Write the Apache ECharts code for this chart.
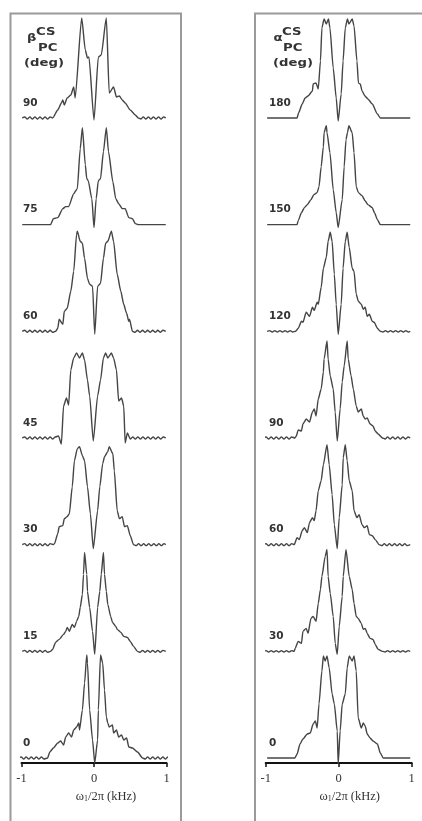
<!DOCTYPE html>
<html>
<head>
<meta charset="utf-8">
<script src="https://cdn.jsdelivr.net/npm/echarts@6/dist/echarts.min.js"></script>
<style>html,body{margin:0;padding:0;background:#fff}#c{width:422px;height:821px}</style>
</head>
<body>
<div id="c"></div>
<script>
// ---- data: [frequency (kHz), intensity (arb.)] ----
const b90 = [[-0.99,0],[-0.955,1],[-0.92,-1],[-0.885,1],[-0.85,-1],[-0.815,1],[-0.78,-1],[-0.745,1],[-0.71,-1],[-0.675,1],[-0.64,-1],[-0.605,1],[-0.57,0],
 [-0.50,8],[-0.45,15],[-0.43,18],[-0.41,13],[-0.37,20],[-0.32,23],[-0.28,31],[-0.26,20],[-0.17,100],[-0.12,68],[-0.09,60],[-0.07,61],[0.0,-2],[0.06,61],[0.10,63],[0.17,100],[0.21,25],[0.27,31],[0.31,21],[0.35,22],[0.39,18],[0.43,15],[0.50,8],[0.57,3],
 [0.61,0],[0.645,-1],[0.68,1],[0.715,-1],[0.75,1],[0.785,-1],[0.82,1],[0.855,-1],[0.89,1],[0.925,-1],[0.96,1],[0.99,0]];
const b75 = [[-0.99,0],[-0.60,0],[-0.56,6],[-0.50,7],[-0.43,16],[-0.39,18],[-0.35,18],[-0.28,31],[-0.23,36],[-0.19,76],[-0.16,97],[-0.12,60],[-0.10,46],[-0.08,44],[-0.03,26],[0.0,-3],[0.03,26],[0.06,44],[0.09,46],[0.13,73],[0.17,97],[0.20,73],[0.26,43],[0.30,26],[0.34,21],[0.39,16],[0.43,16],[0.48,7],[0.53,6],[0.57,1],[0.61,0],[0.99,0]];
const b60 = [[-0.99,0],[-0.955,1],[-0.92,-1],[-0.885,1],[-0.85,-1],[-0.815,1],[-0.78,-1],[-0.745,1],[-0.71,-1],[-0.675,1],[-0.64,-1],[-0.605,1],[-0.57,-1],[-0.53,0],
 [-0.50,3],[-0.48,12],[-0.43,7],[-0.41,20],[-0.37,23],[-0.32,40],[-0.28,60],[-0.24,97],[-0.23,100],[-0.19,90],[-0.16,88],[-0.13,73],[-0.09,53],[-0.06,47],[-0.02,45],[0.01,-3],[0.05,45],[0.09,48],[0.13,73],[0.16,88],[0.19,90],[0.24,100],[0.27,90],[0.32,57],[0.37,40],[0.41,27],[0.45,18],[0.48,10],[0.49,12],[0.53,0],
 [0.565,-1],[0.60,1],[0.635,-1],[0.67,1],[0.705,-1],[0.74,1],[0.775,-1],[0.81,1],[0.845,-1],[0.88,1],[0.915,-1],[0.95,1],[0.99,0]];
const b45 = [[-0.99,0],[-0.955,1],[-0.92,-1],[-0.885,1],[-0.85,-1],[-0.815,1],[-0.78,-1],[-0.745,1],[-0.71,-1],[-0.675,1],[-0.64,-1],[-0.605,1],[-0.57,-1],[-0.535,1],[-0.49,2],
 [-0.45,-6],[-0.42,32],[-0.38,40],[-0.35,33],[-0.32,68],[-0.28,80],[-0.24,85],[-0.20,80],[-0.16,85],[-0.13,78],[-0.09,58],[-0.06,42],[-0.01,-3],[0.05,42],[0.09,58],[0.13,80],[0.16,85],[0.19,80],[0.24,85],[0.27,80],[0.31,68],[0.34,37],[0.38,40],[0.41,32],[0.43,-5],[0.46,5],
 [0.50,-1],[0.535,1],[0.57,-1],[0.605,1],[0.64,-1],[0.675,1],[0.71,-1],[0.745,1],[0.78,-1],[0.815,1],[0.85,-1],[0.885,1],[0.92,-1],[0.955,1],[0.99,0]];
const b30 = [[-0.99,0],[-0.955,1],[-0.92,-1],[-0.885,1],[-0.85,-1],[-0.815,1],[-0.78,-1],[-0.745,1],[-0.71,-1],[-0.675,1],[-0.64,-1],[-0.605,1],[-0.56,0],
 [-0.545,1],[-0.50,11],[-0.48,18],[-0.43,19],[-0.41,26],[-0.37,28],[-0.34,31],[-0.30,58],[-0.27,84],[-0.23,96],[-0.20,98],[-0.16,89],[-0.13,84],[-0.09,58],[-0.05,31],[-0.01,-4],[0.05,34],[0.08,58],[0.12,81],[0.145,88],[0.19,93],[0.21,98],[0.26,91],[0.28,74],[0.32,34],[0.35,26],[0.39,28],[0.42,18],[0.46,19],[0.50,9],[0.545,0],
 [0.58,-1],[0.615,1],[0.65,-1],[0.685,1],[0.72,-1],[0.755,1],[0.79,-1],[0.825,1],[0.86,-1],[0.895,1],[0.93,-1],[0.965,1],[0.99,0]];
const b15 = [[-0.99,0],[-0.955,1],[-0.92,-1],[-0.885,1],[-0.85,-1],[-0.815,1],[-0.78,-1],[-0.745,1],[-0.71,-1],[-0.675,1],[-0.64,-1],[-0.60,0],
 [-0.57,2],[-0.53,9],[-0.48,12],[-0.42,17],[-0.39,20],[-0.37,24],[-0.34,20],[-0.30,27],[-0.27,24],[-0.24,30],[-0.21,35],[-0.19,44],[-0.16,57],[-0.145,77],[-0.13,99],[-0.10,77],[-0.09,60],[-0.06,44],[-0.02,20],[0.01,-3],[0.05,44],[0.08,60],[0.10,77],[0.13,99],[0.145,77],[0.17,60],[0.19,47],[0.23,35],[0.255,29],[0.30,25],[0.32,22],[0.37,19],[0.41,15],[0.46,14],[0.50,10],[0.545,5],[0.60,0],
 [0.635,-1],[0.67,1],[0.705,-1],[0.74,1],[0.775,-1],[0.81,1],[0.845,-1],[0.88,1],[0.915,-1],[0.95,1],[0.99,0]];
const b0 = [[-1.04,0],[-1.005,1],[-0.97,-1],[-0.935,1],[-0.90,-1],[-0.865,1],[-0.83,-1],[-0.795,1],[-0.76,-1],[-0.725,1],[-0.69,-1],[-0.64,0],
 [-0.61,6],[-0.56,10],[-0.50,15],[-0.46,17],[-0.42,13],[-0.39,21],[-0.35,25],[-0.31,21],[-0.28,28],[-0.24,31],[-0.21,35],[-0.20,28],[-0.16,48],[-0.13,75],[-0.10,103],[-0.09,95],[-0.06,48],[-0.02,18],[0.01,-5],[0.05,18],[0.06,48],[0.09,103],[0.12,95],[0.145,68],[0.17,41],[0.19,35],[0.21,31],[0.255,33],[0.27,25],[0.31,28],[0.34,21],[0.38,23],[0.41,18],[0.45,20],[0.48,11],[0.53,10],[0.60,6],[0.67,0],
 [0.705,-1],[0.74,1],[0.775,-1],[0.81,1],[0.845,-1],[0.88,1],[0.915,-1],[0.95,1],[0.985,-1],[1.02,1],[1.055,-1],[1.08,0]];

const a180 = [[-0.98,0],[-0.57,0],[-0.55,5],[-0.50,14],[-0.46,20],[-0.42,22],[-0.36,27],[-0.35,34],[-0.31,35],[-0.28,29],[-0.25,57],[-0.23,90],[-0.20,99],[-0.17,94],[-0.14,99],[-0.12,90],[-0.075,50],[-0.034,20],[-0.007,-3],[0.034,24],[0.06,57],[0.09,90],[0.12,99],[0.14,94],[0.185,99],[0.21,92],[0.25,57],[0.27,35],[0.295,34],[0.32,27],[0.36,22],[0.40,19],[0.46,14],[0.53,4],[0.57,0],[0.98,0]];
const a150 = [[-0.98,0],[-0.57,0],[-0.555,4],[-0.51,12],[-0.47,17],[-0.43,20],[-0.38,25],[-0.34,30],[-0.295,32],[-0.27,38],[-0.24,58],[-0.21,78],[-0.20,92],[-0.17,99],[-0.16,92],[-0.12,72],[-0.075,35],[-0.034,12],[-0.007,-3],[0.048,25],[0.075,58],[0.10,85],[0.12,92],[0.14,99],[0.185,92],[0.21,72],[0.24,38],[0.27,32],[0.32,29],[0.36,24],[0.40,20],[0.46,17],[0.49,12],[0.53,5],[0.57,0],[0.98,0]];
const a120 = [[-0.98,0],[-0.945,0.7],[-0.91,-0.7],[-0.875,0.7],[-0.84,-0.7],[-0.805,0.7],[-0.77,-0.7],[-0.735,0.7],[-0.70,-0.7],[-0.665,0.7],[-0.63,-0.7],[-0.59,0],
 [-0.555,3],[-0.51,10],[-0.49,9],[-0.445,19],[-0.40,15],[-0.36,24],[-0.335,21],[-0.295,29],[-0.28,27],[-0.24,44],[-0.21,63],[-0.17,74],[-0.145,90],[-0.116,99],[-0.09,90],[-0.06,57],[-0.034,27],[-0.007,-3],[0.034,27],[0.06,63],[0.09,90],[0.116,99],[0.144,84],[0.185,63],[0.21,60],[0.24,37],[0.27,30],[0.31,27],[0.336,22],[0.363,24],[0.39,15],[0.42,17],[0.46,10],[0.486,9],[0.53,3],[0.57,0],
 [0.605,-0.7],[0.64,0.7],[0.675,-0.7],[0.71,0.7],[0.745,-0.7],[0.78,0.7],[0.815,-0.7],[0.85,0.7],[0.885,-0.7],[0.92,0.7],[0.955,-0.7],[0.98,0]];
const a90 = [[-1.03,0],[-0.995,1],[-0.96,-1],[-0.925,1],[-0.89,-1],[-0.855,1],[-0.82,-1],[-0.785,1],[-0.75,-1],[-0.715,1],[-0.68,-1],[-0.645,1],[-0.60,0],
 [-0.58,2],[-0.555,8],[-0.51,7],[-0.49,14],[-0.445,19],[-0.40,16],[-0.36,26],[-0.335,29],[-0.31,22],[-0.28,39],[-0.24,49],[-0.21,66],[-0.20,79],[-0.16,97],[-0.145,79],[-0.116,62],[-0.075,49],[-0.048,26],[-0.02,-3],[0.02,29],[0.048,56],[0.075,72],[0.116,97],[0.13,79],[0.17,62],[0.20,49],[0.24,32],[0.267,26],[0.31,29],[0.336,22],[0.363,19],[0.39,20],[0.43,14],[0.47,12],[0.50,7],[0.54,4],[0.60,0],
 [0.635,-1],[0.67,1],[0.705,-1],[0.74,1],[0.775,-1],[0.81,1],[0.845,-1],[0.88,1],[0.915,-1],[0.95,1],[0.98,0]];
const a60 = [[-1.03,0],[-0.995,1],[-0.96,-1],[-0.925,1],[-0.89,-1],[-0.855,1],[-0.82,-1],[-0.785,1],[-0.75,-1],[-0.715,1],[-0.68,-1],[-0.645,1],[-0.61,0],
 [-0.57,7],[-0.54,5],[-0.50,14],[-0.47,17],[-0.43,12],[-0.40,22],[-0.36,27],[-0.335,24],[-0.31,34],[-0.28,54],[-0.24,64],[-0.21,80],[-0.16,100],[-0.13,80],[-0.09,50],[-0.06,20],[-0.02,-4],[0.007,27],[0.048,60],[0.062,87],[0.09,100],[0.116,84],[0.144,64],[0.185,54],[0.21,34],[0.25,27],[0.28,30],[0.32,20],[0.35,17],[0.39,19],[0.42,10],[0.46,9],[0.50,5],[0.555,0],
 [0.59,-1],[0.625,1],[0.66,-1],[0.695,1],[0.73,-1],[0.765,1],[0.80,-1],[0.835,1],[0.87,-1],[0.905,1],[0.94,-1],[0.98,0]];
const a30 = [[-1.03,0],[-0.995,0.7],[-0.96,-0.7],[-0.925,0.7],[-0.89,-0.7],[-0.855,0.7],[-0.82,-0.7],[-0.785,0.7],[-0.75,-0.7],[-0.715,0.7],[-0.68,-0.7],[-0.645,0.7],[-0.61,0],
 [-0.596,3],[-0.555,10],[-0.51,8],[-0.49,20],[-0.445,23],[-0.42,18],[-0.38,33],[-0.35,35],[-0.31,30],[-0.28,48],[-0.25,62],[-0.23,75],[-0.185,95],[-0.16,102],[-0.145,75],[-0.116,58],[-0.075,35],[-0.048,8],[-0.02,-3],[0.007,25],[0.048,55],[0.062,75],[0.10,102],[0.144,75],[0.185,62],[0.21,48],[0.24,35],[0.267,33],[0.31,28],[0.336,22],[0.363,23],[0.39,18],[0.43,13],[0.47,12],[0.50,7],[0.54,2],[0.60,0],
 [0.635,-0.7],[0.67,0.7],[0.705,-0.7],[0.74,0.7],[0.775,-0.7],[0.81,0.7],[0.845,-0.7],[0.88,0.7],[0.915,-0.7],[0.95,0.7],[0.98,0]];
const a0 = [[-0.98,0],[-0.60,0],[-0.57,4],[-0.53,14],[-0.49,19],[-0.43,24],[-0.39,25],[-0.35,34],[-0.32,37],[-0.295,30],[-0.27,54],[-0.23,87],[-0.21,102],[-0.185,97],[-0.16,102],[-0.13,90],[-0.09,64],[-0.06,54],[-0.02,27],[-0.007,-6],[0.02,27],[0.048,54],[0.09,64],[0.116,90],[0.144,102],[0.185,97],[0.21,102],[0.24,87],[0.267,40],[0.31,30],[0.336,35],[0.363,32],[0.39,24],[0.43,20],[0.47,17],[0.53,14],[0.57,5],[0.61,0],[0.98,0]];

const betaLabels = ['0','15','30','45','60','75','90'];
const betaSpectra = [b0, b15, b30, b45, b60, b75, b90];
const alphaLabels = ['0','30','60','90','120','150','180'];
const alphaSpectra = [a0, a30, a60, a90, a120, a150, a180];
const tickLabels = ['-1','0','1'];

const SPACING = 106.67;
const LINE = '#454545';
const chart = echarts.init(document.getElementById('c'), null, {renderer: 'canvas'});

function xAxisDef(gridIndex, padLeft) {
  return {
    type: 'value', gridIndex, min: -1, max: 1, interval: 1,
    axisLine: {show: true, onZero: false, lineStyle: {color: '#111', width: 2}},
    axisTick: {show: true, length: 4, lineStyle: {color: '#111', width: 1.5}},
    splitLine: {show: false},
    axisLabel: {margin: 9, fontFamily: 'Liberation Serif', fontSize: 12.5, color: '#333',
      formatter: v => tickLabels[Math.round(v) + 1]},
    name: 'ω{s|1}/2π (kHz)', nameLocation: 'middle', nameGap: 23,
    nameTextStyle: {fontFamily: 'Liberation Serif', fontSize: 12.5, color: '#333', padding: [0, 0, 0, padLeft],
      rich: {s: {fontFamily: 'Liberation Serif', fontSize: 8, color: '#333', padding: [6, 0, 0, 0]}}}
  };
}
function yAxisDef(gridIndex) {
  return {type: 'value', gridIndex, min: -5, max: 745, show: false, splitLine: {show: false}};
}

const series = [];
function addSpectra(list, axisIdx) {
  list.forEach((s, k) => series.push({
    type: 'line', xAxisIndex: axisIdx, yAxisIndex: axisIdx, data: s.map(p => [p[0], p[1] + k * SPACING]),
    showSymbol: false, symbol: 'none', clip: false, silent: true,
    smooth: 0.2, smoothMonotone: 'x',
    lineStyle: {color: LINE, width: 1.4}
  }));
}
addSpectra(betaSpectra, 0);
addSpectra(alphaSpectra, 1);

chart.setOption({
  animation: false,
  backgroundColor: '#fff',
  grid: [
    {left: 21.5, width: 145, top: 13, height: 750},
    {left: 265.7, width: 146, top: 13, height: 750}
  ],
  xAxis: [xAxisDef(0, 24), xAxisDef(1, 22)],
  yAxis: [yAxisDef(0), yAxisDef(1)],
  series
});

const g = [];
g.push({type: 'rect', z: 0, shape: {x: 10.5, y: 13.5, width: 170.5, height: 840}, style: {fill: 'none', stroke: '#9a9a9a', lineWidth: 2}});
g.push({type: 'rect', z: 0, shape: {x: 255, y: 13.5, width: 220, height: 840}, style: {fill: 'none', stroke: '#9a9a9a', lineWidth: 2}});

function hdr(x, y, text, size) {
  return {type: 'text', z: 10, x, y, scaleX: 1.2, style: {text, font: 'bold ' + size + 'px "DejaVu Sans"', fill: '#333', textVerticalAlign: 'middle', textAlign: 'left'}};
}
g.push(hdr(27, 38, 'β', 11));
g.push(hdr(36, 32, 'CS', 11));
g.push(hdr(38, 48, 'PC', 11));
g.push(hdr(24, 63, '(deg)', 11));
g.push(hdr(273.5, 38, 'α', 11));
g.push(hdr(282, 32, 'CS', 11));
g.push(hdr(283, 48, 'PC', 11));
g.push(hdr(273, 63, '(deg)', 11));

betaLabels.forEach((t, k) => {
  const p = chart.convertToPixel({gridIndex: 0}, [-0.98, k * SPACING + 15]);
  g.push({type: 'text', z: 10, x: p[0], y: p[1], style: {text: t, font: 'bold 10.5px "DejaVu Sans"', fill: '#333', textVerticalAlign: 'middle', textAlign: 'left'}});
});
alphaLabels.forEach((t, k) => {
  const p = chart.convertToPixel({gridIndex: 1}, [-0.955, k * SPACING + 15]);
  g.push({type: 'text', z: 10, x: p[0], y: p[1], style: {text: t, font: 'bold 10.5px "DejaVu Sans"', fill: '#333', textVerticalAlign: 'middle', textAlign: 'left'}});
});
chart.setOption({graphic: g});
</script>
</body>
</html>
